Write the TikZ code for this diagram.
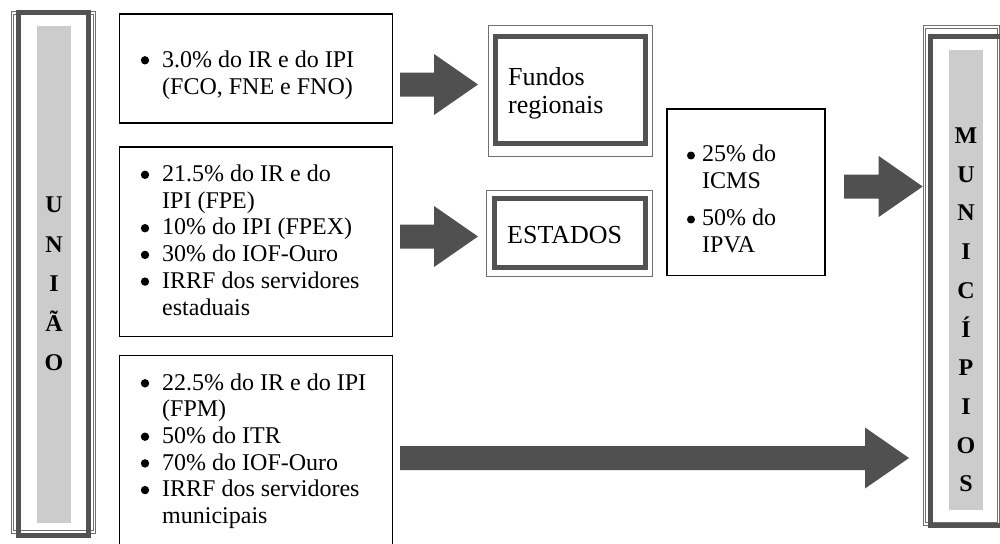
\documentclass[tikz,border=0pt]{standalone}
\usepackage{fontspec}
\setmainfont{Liberation Serif}
\usetikzlibrary{calc}
\definecolor{darkframe}{HTML}{525252}
\definecolor{arrowgray}{HTML}{505050}
\definecolor{stripgray}{HTML}{CCCCCC}
\definecolor{thingray}{HTML}{707070}
\newcommand\blockarrow[2]{%
  \fill[arrowfill] ($(#1)+(0,-12)$) -- ($(#2)+(-44,-12)$) -- ($(#2)+(-44,-30.5)$) -- (#2)
    -- ($(#2)+(-44,30.5)$) -- ($(#2)+(-44,12)$) -- ($(#1)+(0,12)$) -- cycle;}
\begin{document}
\begin{tikzpicture}[x=1pt,y=-1pt,
  textbox/.style={draw=black,line width=1.8pt,inner sep=0pt,outer sep=0pt},
  thinframe/.style={draw=thingray,line width=1pt,inner sep=0pt,outer sep=0pt},
  dblframe/.style={draw=thingray,double=white,double distance=1.4pt,line width=0.9pt,inner sep=0pt,outer sep=0pt},
  thickframe/.style={draw=darkframe,line width=5pt,inner sep=0pt,outer sep=0pt},
  strip/.style={fill=stripgray,inner sep=0pt,outer sep=0pt},
  body/.style={inner sep=0pt,anchor=base west,font=\fontsize{24}{27}\selectfont},
  big/.style={inner sep=0pt,anchor=base west,font=\fontsize{26}{29}\selectfont},
  letter/.style={inner sep=0pt,anchor=base,font=\fontsize{24}{27}\selectfont\bfseries},
  arrowfill/.style={fill=arrowgray}]
\useasboundingbox (0,0) rectangle (1000,543);
\fill[white] (0,0) rectangle (1000,543);
\clip (0,0) rectangle (1000,543);

% UNIAO column
\node[dblframe,minimum width=82.3pt,minimum height=519pt] (uniaoout) at (53.35,272.5) {};
\node[thickframe,minimum width=70pt,minimum height=522.5pt] (uniao) at (53.5,274) {};
\node[strip,minimum width=34pt,minimum height=497pt] (uniaostrip) at (54,274.5) {};
\node[letter] (u1) at (54,212.5) {U};
\node[letter] (u2) at (54,252) {N};
\node[letter] (u3) at (54,291.5) {I};
\node[letter] (u4) at (54,331) {Ã};
\node[letter] (u5) at (54,370.5) {O};

% MUNICIPIOS column
\node[dblframe,minimum width=73.8pt,minimum height=497pt] (munout) at (961.6,275.5) {};
\node[thickframe,minimum width=75pt,minimum height=488pt] (mun) at (968.3,281) {};
\node[strip,minimum width=34pt,minimum height=460pt] (munstrip) at (966,280) {};
\node[letter] (m1) at (966,143.5) {M};
\node[letter] (m2) at (966,182.2) {U};
\node[letter] (m3) at (966,220.9) {N};
\node[letter] (m4) at (966,259.6) {I};
\node[letter] (m5) at (966,298.3) {C};
\node[letter] (m6) at (966,337.0) {Í};
\node[letter] (m7) at (966,375.7) {P};
\node[letter] (m8) at (966,414.4) {I};
\node[letter] (m9) at (966,453.1) {O};
\node[letter] (m10) at (966,491.8) {S};

% left text boxes
\node[textbox,minimum width=273pt,minimum height=109pt] (b1) at (256,68.5) {};
\node[textbox,minimum width=273pt,minimum height=189.5pt] (b2) at (256,241.75) {};
\node[textbox,minimum width=273pt,minimum height=209pt] (b3) at (256,460) {};

% box 1 text
\fill (145,60.3) circle (4.2pt);
\node[body] (t11) at (162,67) {3.0\% do IR e do IPI};
\node[body] (t12) at (162,94) {(FCO, FNE e FNO)};

% box 2 text
\fill (145,174.8) circle (4.2pt);
\node[body] (t21) at (162,181.5) {21.5\% do IR e do};
\node[body] (t22) at (162,208.2) {IPI (FPE)};
\fill (145,228.2) circle (4.2pt);
\node[body] (t23) at (162,234.9) {10\% do IPI (FPEX)};
\fill (145,254.9) circle (4.2pt);
\node[body] (t24) at (162,261.6) {30\% do IOF-Ouro};
\fill (145,281.6) circle (4.2pt);
\node[body] (t25) at (162,288.3) {IRRF dos servidores};
\node[body] (t26) at (162,315) {estaduais};

% box 3 text
\fill (145,383.3) circle (4.2pt);
\node[body] (t31) at (162,390) {22.5\% do IR e do IPI};
\node[body] (t32) at (162,416.7) {(FPM)};
\fill (145,436.7) circle (4.2pt);
\node[body] (t33) at (162,443.4) {50\% do ITR};
\fill (145,463.4) circle (4.2pt);
\node[body] (t34) at (162,470.1) {70\% do IOF-Ouro};
\fill (145,490.1) circle (4.2pt);
\node[body] (t35) at (162,496.8) {IRRF dos servidores};
\node[body] (t36) at (162,523.5) {municipais};

% Fundos regionais
\node[thinframe,minimum width=164pt,minimum height=130pt] (fundosout) at (570,91) {};
\node[thickframe,minimum width=150pt,minimum height=107pt] (fundos) at (570.5,90) {};
\node[big] (f1) at (508,85) {Fundos};
\node[big] (f2) at (508,113) {regionais};

% ESTADOS
\node[thinframe,minimum width=166pt,minimum height=85.5pt] (estout) at (569,233.25) {};
\node[thickframe,minimum width=151pt,minimum height=68.5pt] (estados) at (570,232.75) {};
\node[big] (e1) at (507,243) {ESTADOS};

% ICMS / IPVA box
\node[textbox,minimum width=158pt,minimum height=166.5pt] (icms) at (746,192.25) {};
\fill (691,155.5) circle (4pt);
\node[body] (i1) at (702,161) {25\% do};
\node[body] (i2) at (702,188) {ICMS};
\fill (691,219.5) circle (4pt);
\node[body] (i3) at (702,225) {50\% do};
\node[body] (i4) at (702,252) {IPVA};

% block arrows
\coordinate (a1s) at ($(b1.east |- 0,84.5)+(7.5,0)$);
\coordinate (a1e) at ($(fundosout.west |- 0,84.5)+(-10,0)$);
\blockarrow{a1s}{a1e}
\coordinate (a2s) at ($(b2.east |- 0,236.5)+(7.5,0)$);
\coordinate (a2e) at ($(estout.west |- 0,236.5)+(-8,0)$);
\blockarrow{a2s}{a2e}
\coordinate (a3s) at ($(icms.east |- 0,186.5)+(19,0)$);
\coordinate (a3e) at ($(munout.west |- 0,186.5)+(-2,0)$);
\blockarrow{a3s}{a3e}
\coordinate (a4s) at ($(b3.east |- 0,458)+(7.5,0)$);
\coordinate (a4e) at ($(munout.west |- 0,458)+(-15.7,0)$);
\blockarrow{a4s}{a4e}
\end{tikzpicture}
\end{document}
